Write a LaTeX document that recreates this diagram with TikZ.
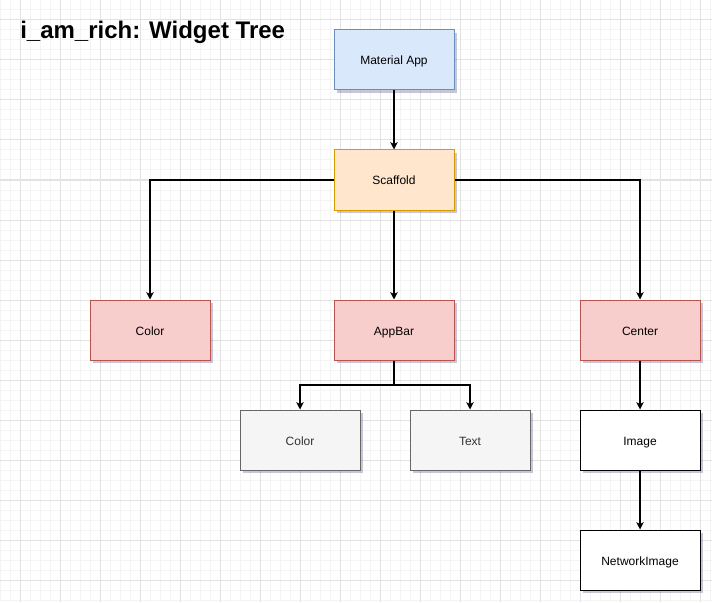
\documentclass[tikz,border=0pt]{standalone}
\usepackage{fontspec}
\setmainfont{Liberation Sans}
\usetikzlibrary{shadows,arrows.meta}

\definecolor{appfill}{HTML}{DAE8FC}
\definecolor{appline}{HTML}{6C8EBF}
\definecolor{scafill}{HTML}{FFE6CC}
\definecolor{scaline}{HTML}{D79B00}
\definecolor{redfill}{HTML}{F8CECC}
\definecolor{redline}{HTML}{B85450}
\definecolor{grayfill}{HTML}{F5F5F5}
\definecolor{grayline}{HTML}{666666}
\definecolor{graytext}{HTML}{333333}
\definecolor{minorgrid}{HTML}{F4F4F4}
\definecolor{majorgrid}{HTML}{E2E2E2}

\tikzset{
  widget/.style={rectangle, draw, line width=0.75pt, minimum width=90pt, minimum height=45pt,
    text height=8pt, text depth=0.5pt,
    font=\fontsize{9}{11}\selectfont,
    drop shadow={shadow xshift=2pt, shadow yshift=-2pt, opacity=0.22, fill=black!70!blue}},
  appbox/.style={widget, fill=appfill, draw=appline},
  scabox/.style={widget, fill=scafill, draw=scaline},
  redbox/.style={widget, fill=redfill, draw=redline},
  graybox/.style={widget, fill=grayfill, draw=grayline, text=graytext},
  plainbox/.style={widget, fill=white, draw=black},
  link/.style={line width=0.9pt, -{Stealth[length=5.5pt, width=5.5pt, inset=1.5pt]}},
}

\begin{document}
\begin{tikzpicture}[x=0.75pt, y=-0.75pt]
\useasboundingbox (0,0) rectangle (712,602);
\fill [white] (0,0) rectangle (712,602);

% grid
\foreach \x in {0,10,...,710} \draw [minorgrid, line width=0.75pt] (\x,0) -- (\x,602);
\foreach \y in {0,10,...,600} \draw [minorgrid, line width=0.75pt] (0,\y) -- (712,\y);
\foreach \x in {20,60,...,700} \draw [majorgrid, line width=0.75pt] (\x,0) -- (\x,602);
\foreach \y in {20,60,...,580} \draw [majorgrid, line width=0.75pt] (0,\y) -- (712,\y);

% title
\node [anchor=base west, inner sep=0pt, font=\bfseries\fontsize{18}{20}\selectfont] (title) at (20,38.5) {i\_am\_rich: Widget Tree};

\node [appbox] (app) at (394,60) {Material App};
\node [scabox] (scaffold) at (394,180) {Scaffold};
\node [redbox] (color) at (150,330) {Color};
\node [redbox] (appbar) at (394,330) {AppBar};
\node [redbox] (center) at (640,330) {Center};
\node [graybox] (barcolor) at (300,440) {Color};
\node [graybox] (bartext) at (470,440) {Text};
\node [plainbox] (image) at (640,440) {Image};
\node [plainbox] (netimage) at (640,560) {NetworkImage};

\coordinate (split) at (394,385);

\draw [link] (app) -- (scaffold);
\draw [link] (scaffold.west) -| (color.north);
\draw [link] (scaffold) -- (appbar);
\draw [link] (scaffold.east) -| (center.north);
\draw [line width=0.9pt] (appbar) -- (split);
\draw [link] (split) -| (barcolor.north);
\draw [link] (split) -| (bartext.north);
\draw [link] (center) -- (image);
\draw [link] (image) -- (netimage);
\end{tikzpicture}
\end{document}
